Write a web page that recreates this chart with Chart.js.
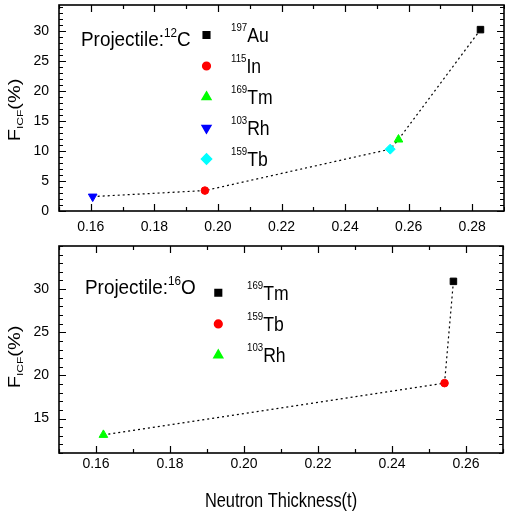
<!DOCTYPE html>
<html>
<head>
<meta charset="utf-8">
<script src="https://cdn.jsdelivr.net/npm/chart.js@4.4.1/dist/chart.umd.min.js"></script>
<style>
  html, body { margin: 0; padding: 0; background: #fff; }
  #wrap { position: relative; width: 505px; height: 513px; }
  .box { position: absolute; left: 0; width: 505px; }
  #topBox { top: 0; height: 240px; }
  #botBox { top: 240px; height: 273px; }
</style>
</head>
<body>
<div id="wrap">
  <div class="box" id="topBox"><canvas id="topChart"></canvas></div>
  <div class="box" id="botBox"><canvas id="botChart"></canvas></div>
</div>
<script>
// Projectile 12C
const cMass = ['197', '115', '169', '103', '159'];
const cSym = ['Au', 'In', 'Tm', 'Rh', 'Tb'];
const cThick = [0.2826, 0.1959, 0.2568, 0.1606, 0.2542];
const cFicf = [30.2, 3.4, 11.9, 2.4, 10.3];

// Projectile 16O
const oMass = ['169', '159', '103'];
const oSym = ['Tm', 'Tb', 'Rh'];
const oThick = [0.2566, 0.2542, 0.1620];
const oFicf = [30.9, 19.1, 13.1];

const xTicks = [0.16, 0.18, 0.20, 0.22, 0.24, 0.26, 0.28];
const cYTicks = [0, 5, 10, 15, 20, 25, 30];
const oYTicks = [15, 20, 25, 30];

const FONT = "'Liberation Sans', Arial, sans-serif";

// marker looks, in the same order as the data
const cMarks = [
  { style: 'rect', color: '#000000', r: 4.6 },
  { style: 'circle', color: '#ff0000', r: 3.8 },
  { style: 'triangle', color: '#00ff00', r: 5 },
  { style: 'triangle', color: '#0000ff', r: 5, rot: 180 },
  { style: 'rectRot', color: '#00ffff', r: 5 }
];
const oMarks = [
  { style: 'rect', color: '#000000', r: 4.6 },
  { style: 'circle', color: '#ff0000', r: 3.8 },
  { style: 'triangle', color: '#00ff00', r: 5 }
];

function richText(ctx, parts, x, y, sx, align) {
  ctx.save();
  let total = 0;
  parts.forEach(p => {
    ctx.font = p.size + 'px ' + FONT;
    total += ctx.measureText(p.t).width;
  });
  ctx.translate(x, y);
  ctx.scale(sx, 1);
  let cx = align === 'center' ? -total / 2 : 0;
  ctx.fillStyle = '#000';
  ctx.textBaseline = 'alphabetic';
  ctx.textAlign = 'left';
  parts.forEach(p => {
    ctx.font = p.size + 'px ' + FONT;
    ctx.fillText(p.t, cx, -(p.rise || 0));
    cx += ctx.measureText(p.t).width;
  });
  ctx.restore();
}

const deco = {
  id: 'deco',
  afterDraw(chart, args, o) {
    const ctx = chart.ctx, a = chart.chartArea;
    const xs = chart.scales.x, ys = chart.scales.y;
    const near = (v, list) => list.some(t => Math.abs(t - v) < 1e-6);
    ctx.save();
    ctx.strokeStyle = '#000';

    // inward ticks, all four sides
    ctx.lineWidth = 1.2;
    ctx.beginPath();
    for (let k = Math.ceil(xs.min / o.xMinor - 1e-6); k * o.xMinor <= xs.max + 1e-9; k++) {
      const v = k * o.xMinor;
      const p = Math.round(xs.getPixelForValue(v)) + 0.5;
      const len = near(v, o.xMajor) ? 7 : 4;
      ctx.moveTo(p, a.bottom); ctx.lineTo(p, a.bottom - len);
      ctx.moveTo(p, a.top); ctx.lineTo(p, a.top + len);
    }
    for (let k = Math.ceil(ys.min / o.yMinor - 1e-6); k * o.yMinor <= ys.max + 1e-9; k++) {
      const v = k * o.yMinor;
      const p = Math.round(ys.getPixelForValue(v)) + 0.5;
      const len = near(v, o.yMajor) ? 7 : 4;
      ctx.moveTo(a.left, p); ctx.lineTo(a.left + len, p);
      ctx.moveTo(a.right, p); ctx.lineTo(a.right - len, p);
    }
    ctx.stroke();

    // frame
    ctx.lineWidth = 1.6;
    ctx.strokeRect(a.left, a.top, a.right - a.left, a.bottom - a.top);

    // legend with superscript mass numbers
    const lg = o.legend;
    o.mass.forEach((m, i) => {
      const mk = o.marks[i];
      const y = lg.y + i * lg.dy;
      ctx.fillStyle = mk.color;
      ctx.strokeStyle = mk.color;
      Chart.helpers.drawPoint(ctx, { pointStyle: mk.style, radius: mk.r, rotation: mk.rot || 0, borderWidth: 1 }, lg.x, y);
      richText(ctx, [
        { t: m, size: 11, rise: 11 },
        { t: o.sym[i], size: 20 }
      ], lg.textX, y + 7, 0.88);
    });

    // projectile label
    richText(ctx, [
      { t: 'Projectile:', size: 21 },
      { t: o.proj[0], size: 13, rise: 9 },
      { t: o.proj[1], size: 21 }
    ], o.projPos[0], o.projPos[1], 0.9);

    // y title F_ICF(%)
    ctx.save();
    ctx.translate(20, o.yTitleY);
    ctx.rotate(-Math.PI / 2);
    ctx.scale(1, 0.8);
    ctx.fillStyle = '#000';
    ctx.textBaseline = 'alphabetic';
    const tparts = [
      { t: 'F', size: 20, rise: 0 },
      { t: 'ICF', size: 12, rise: -4 },
      { t: '(%)', size: 20, rise: 0 }
    ];
    let tw = 0;
    tparts.forEach(p => { ctx.font = p.size + 'px ' + FONT; tw += ctx.measureText(p.t).width; });
    let cx = -tw / 2;
    tparts.forEach(p => {
      ctx.font = p.size + 'px ' + FONT;
      ctx.fillText(p.t, cx, -p.rise);
      cx += ctx.measureText(p.t).width;
    });
    ctx.restore();

    if (o.xTitle) {
      richText(ctx, [{ t: o.xTitle, size: 20 }], (a.left + a.right) / 2, o.xTitleY, 0.82, 'center');
    }
    ctx.restore();
  }
};

function pointSets(xs, ys, marks, names) {
  return xs.map((x, i) => ({
    label: names[i],
    data: [{ x: x, y: ys[i] }],
    pointStyle: marks[i].style,
    rotation: marks[i].rot || 0,
    pointRadius: marks[i].r,
    backgroundColor: marks[i].color,
    borderColor: marks[i].color,
    borderWidth: 1,
    showLine: false,
    order: 1
  }));
}

function lineSet(xs, ys) {
  const idx = xs.map((_, i) => i).sort((a, b) => xs[a] - xs[b]);
  return {
    label: 'trend',
    data: idx.map(i => ({ x: xs[i], y: ys[i] })),
    showLine: true,
    pointRadius: 0,
    borderColor: '#000',
    borderWidth: 1.2,
    borderDash: [2, 3],
    fill: false,
    order: 5
  };
}

function noPad(s) {
  s.paddingLeft = 0;
  s.paddingRight = 0;
  s.paddingTop = 0;
  s.paddingBottom = 0;
}

function makeChart(id, cfg) {
  const inside = (list, lo, hi) => list.filter(v => v >= lo - 1e-9 && v <= hi + 1e-9);
  return new Chart(document.getElementById(id), {
    type: 'scatter',
    data: {
      datasets: [lineSet(cfg.xs, cfg.ys)].concat(pointSets(cfg.xs, cfg.ys, cfg.marks, cfg.sym))
    },
    options: {
      responsive: true,
      maintainAspectRatio: false,
      animation: false,
      events: [],
      layout: { padding: cfg.padding, autoPadding: false },
      plugins: {
        legend: { display: false },
        tooltip: { enabled: false },
        deco: {
          xMinor: 0.01, yMinor: 1,
          xMajor: xTicks, yMajor: cfg.yTicks,
          mass: cfg.mass, sym: cfg.sym, marks: cfg.marks,
          legend: cfg.legend, proj: cfg.proj, projPos: cfg.projPos,
          yTitleY: cfg.yTitleY, xTitle: cfg.xTitle, xTitleY: cfg.xTitleY
        }
      },
      scales: {
        x: {
          type: 'linear',
          min: cfg.xMin, max: cfg.xMax,
          afterBuildTicks: s => { s.ticks = inside(xTicks, cfg.xMin, cfg.xMax).map(v => ({ value: v })); },
          afterFit: s => { s.height = cfg.xHeight; noPad(s); },
          grid: { display: false, drawTicks: false },
          border: { display: false },
          ticks: {
            padding: cfg.xPad,
            color: '#000',
            font: { family: FONT, size: 14 },
            maxRotation: 0,
            autoSkip: false,
            callback: v => v.toFixed(2)
          }
        },
        y: {
          type: 'linear',
          min: cfg.yMin, max: cfg.yMax,
          afterBuildTicks: s => { s.ticks = inside(cfg.yTicks, cfg.yMin, cfg.yMax).map(v => ({ value: v })); },
          afterFit: s => { s.width = 59; noPad(s); },
          grid: { display: false, drawTicks: false },
          border: { display: false },
          ticks: {
            padding: 10,
            color: '#000',
            autoSkip: false,
            font: { family: FONT, size: 14 }
          }
        }
      }
    },
    plugins: [deco]
  });
}

makeChart('topChart', {
  xs: cThick, ys: cFicf, marks: cMarks, mass: cMass, sym: cSym,
  xMin: 0.15, xMax: 0.29, yMin: 0, yMax: 34.3, yTicks: cYTicks,
  padding: { top: 5, right: 1, left: 0, bottom: 0 },
  xHeight: 29, xPad: 8,
  legend: { x: 206.5, y: 35, dy: 31, textX: 231 },
  proj: ['12', 'C'], projPos: [81, 46],
  yTitleY: 110
});

makeChart('botChart', {
  xs: oThick, ys: oFicf, marks: oMarks, mass: oMass, sym: oSym,
  xMin: 0.15, xMax: 0.27, yMin: 11, yMax: 35, yTicks: oYTicks,
  padding: { top: 6, right: 2, left: 0, bottom: 0 },
  xHeight: 60, xPad: 3,
  legend: { x: 218.3, y: 52.7, dy: 31.2, textX: 247 },
  proj: ['16', 'O'], projPos: [85, 54],
  yTitleY: 117,
  xTitle: 'Neutron Thickness(t)', xTitleY: 267
});
</script>
</body>
</html>
